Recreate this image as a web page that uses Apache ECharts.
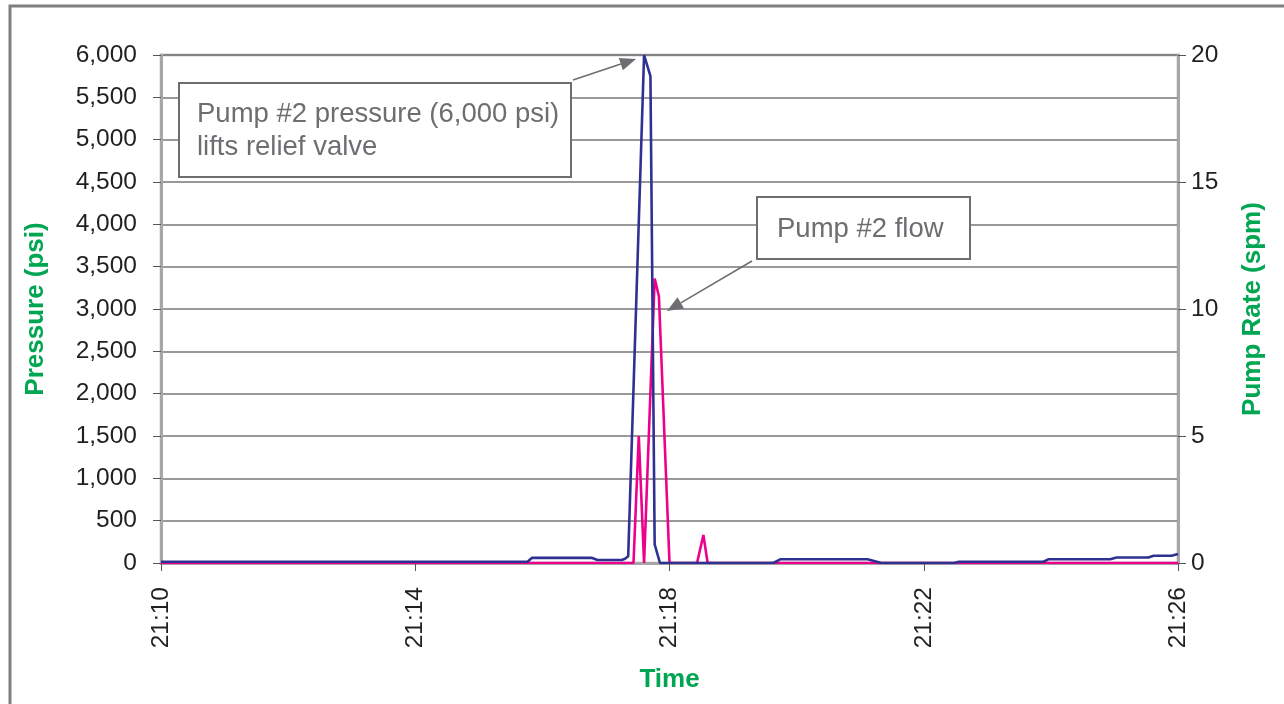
<!DOCTYPE html>
<html>
<head>
<meta charset="utf-8">
<script src="https://cdn.jsdelivr.net/npm/echarts@6/dist/echarts.min.js"></script>
<style>
html,body{margin:0;padding:0;background:#fff;}
#chart{width:1284px;height:704px;}
</style>
</head>
<body>
<div id="chart"></div>
<script>
// ---- data (times are hh:mm:ss, start of axis 21:10:00) ----
const pressureTimes = ["21:10:00","21:15:46","21:15:50","21:16:47","21:16:52","21:17:15","21:17:18","21:17:21","21:17:36","21:17:42","21:17:46","21:17:51","21:19:38","21:19:45","21:21:07","21:21:20","21:22:29","21:22:33","21:23:53","21:23:58","21:24:56","21:25:02","21:25:32","21:25:37","21:25:54","21:26:00"];
const pressureValues = [15,15,60,60,35,35,50,80,6000,5750,220,0,0,45,45,0,0,15,15,45,45,65,65,85,85,106];
const flowTimes = ["21:10:00","21:17:26","21:17:31","21:17:36","21:17:46","21:17:50","21:18:00","21:18:26","21:18:32","21:18:36","21:26:00"];
const flowValues = [0,0,5,0,11.2,10.5,0,0,1.1,0,0];
const xTickLabels = ["21:10","21:14","21:18","21:22","21:26"];
const pressureTicks = [0,500,1000,1500,2000,2500,3000,3500,4000,4500,5000,5500,6000];
const rateTicks = [0,5,10,15,20];

function toMin(t){ const p=t.split(':').map(Number); return (p[0]*60+p[1]+p[2]/60) - (21*60+10); }
const pressureData = pressureTimes.map((t,i)=>[toMin(t), pressureValues[i]]);
const flowData = flowTimes.map((t,i)=>[toMin(t), flowValues[i]]);

const FONT = '"Liberation Sans", Arial, sans-serif';
const green = '#00a651';
const annoColor = '#6d6e71';

function arrow(x1,y1,x2,y2){
  const L=16, W=6.5;
  const dx=x2-x1, dy=y2-y1, len=Math.hypot(dx,dy);
  const ux=dx/len, uy=dy/len;
  const bx=x2-ux*L, by=y2-uy*L;
  return [
    {type:'line', z:100, shape:{x1:x1,y1:y1,x2:bx,y2:by}, style:{stroke:annoColor,lineWidth:1.6}},
    {type:'polygon', z:100, shape:{points:[[x2,y2],[bx-uy*W,by+ux*W],[bx+uy*W,by-ux*W]]}, style:{fill:annoColor}}
  ];
}

const chart = echarts.init(document.getElementById('chart'), null, {renderer:'canvas'});
chart.setOption({
  animation:false,
  backgroundColor:'#fff',
  grid:{left:161, right:106, top:55, bottom:141, show:true, borderColor:'#a6a6a6', borderWidth:2.5, containLabel:false},
  xAxis:{
    type:'value', min:0, max:16, interval:4,
    name:'Time', nameLocation:'middle', nameGap:104,
    nameTextStyle:{color:green, fontWeight:'bold', fontSize:26, fontFamily:FONT},
    axisLine:{show:true, onZero:false, lineStyle:{color:'#a6a6a6', width:3}},
    axisTick:{show:true, length:8, lineStyle:{color:'#555', width:1}},
    splitLine:{show:false},
    axisLabel:{rotate:90, margin:24, color:'#231f20', fontSize:24.5, fontFamily:FONT,
      formatter:(v)=>xTickLabels[Math.round(v/4)] || ''}
  },
  yAxis:[{
    type:'value', min:0, max:6000, interval:500, position:'left',
    name:'Pressure (psi)', nameLocation:'middle', nameGap:112, nameRotate:90,
    nameTextStyle:{color:green, fontWeight:'bold', fontSize:26, fontFamily:FONT},
    axisLine:{show:true, lineStyle:{color:'#a6a6a6', width:3}},
    axisTick:{show:true, length:8, lineStyle:{color:'#555', width:1}},
    splitLine:{show:true, lineStyle:{color:'#777', width:1.5}},
    axisLabel:{color:'#231f20', fontSize:24.5, fontFamily:FONT, margin:24,
      formatter:(v)=>pressureTicks.indexOf(v)>=0 ? v.toLocaleString('en-US') : ''}
  },{
    type:'value', min:0, max:20, interval:5, position:'right',
    name:'Pump Rate (spm)', nameLocation:'middle', nameGap:62, nameRotate:90,
    nameTextStyle:{color:green, fontWeight:'bold', fontSize:26, fontFamily:FONT},
    axisLine:{show:true, lineStyle:{color:'#a6a6a6', width:3}},
    axisTick:{show:true, length:8, lineStyle:{color:'#555', width:1}},
    splitLine:{show:false},
    axisLabel:{color:'#231f20', fontSize:24.5, fontFamily:FONT, margin:13,
      formatter:(v)=>rateTicks.indexOf(v)>=0 ? String(v) : ''}
  }],
  series:[
    {name:'Pump #2 flow', type:'line', yAxisIndex:1, data:flowData, showSymbol:false, symbol:'none',
      lineStyle:{color:'#ec008c', width:2.6}, itemStyle:{color:'#ec008c'}, z:3},
    {name:'Pump #2 pressure', type:'line', yAxisIndex:0, data:pressureData, showSymbol:false, symbol:'none',
      lineStyle:{color:'#2e3192', width:2.6}, itemStyle:{color:'#2e3192'}, z:4}
  ],
  graphic:[
    {type:'rect', z:0, silent:true, shape:{x:10,y:6,width:1300,height:740}, style:{fill:'none', stroke:'#7f7f7f', lineWidth:3}},
    {type:'rect', z:100, shape:{x:179,y:83,width:392,height:94}, style:{fill:'#fff', stroke:annoColor, lineWidth:2}},
    {type:'text', z:101, x:197, y:98, style:{text:'Pump #2 pressure (6,000 psi)\nlifts relief valve', font:'27.5px '+FONT, fill:annoColor, lineHeight:33}},
    {type:'rect', z:100, shape:{x:757,y:197,width:213,height:62}, style:{fill:'#fff', stroke:annoColor, lineWidth:2}},
    {type:'text', z:101, x:777, y:229, style:{text:'Pump #2 flow', font:'27.5px '+FONT, fill:annoColor, verticalAlign:'middle'}},
    ...arrow(573,80,636,59),
    ...arrow(752,261,667,311)
  ]
});
</script>
</body>
</html>
